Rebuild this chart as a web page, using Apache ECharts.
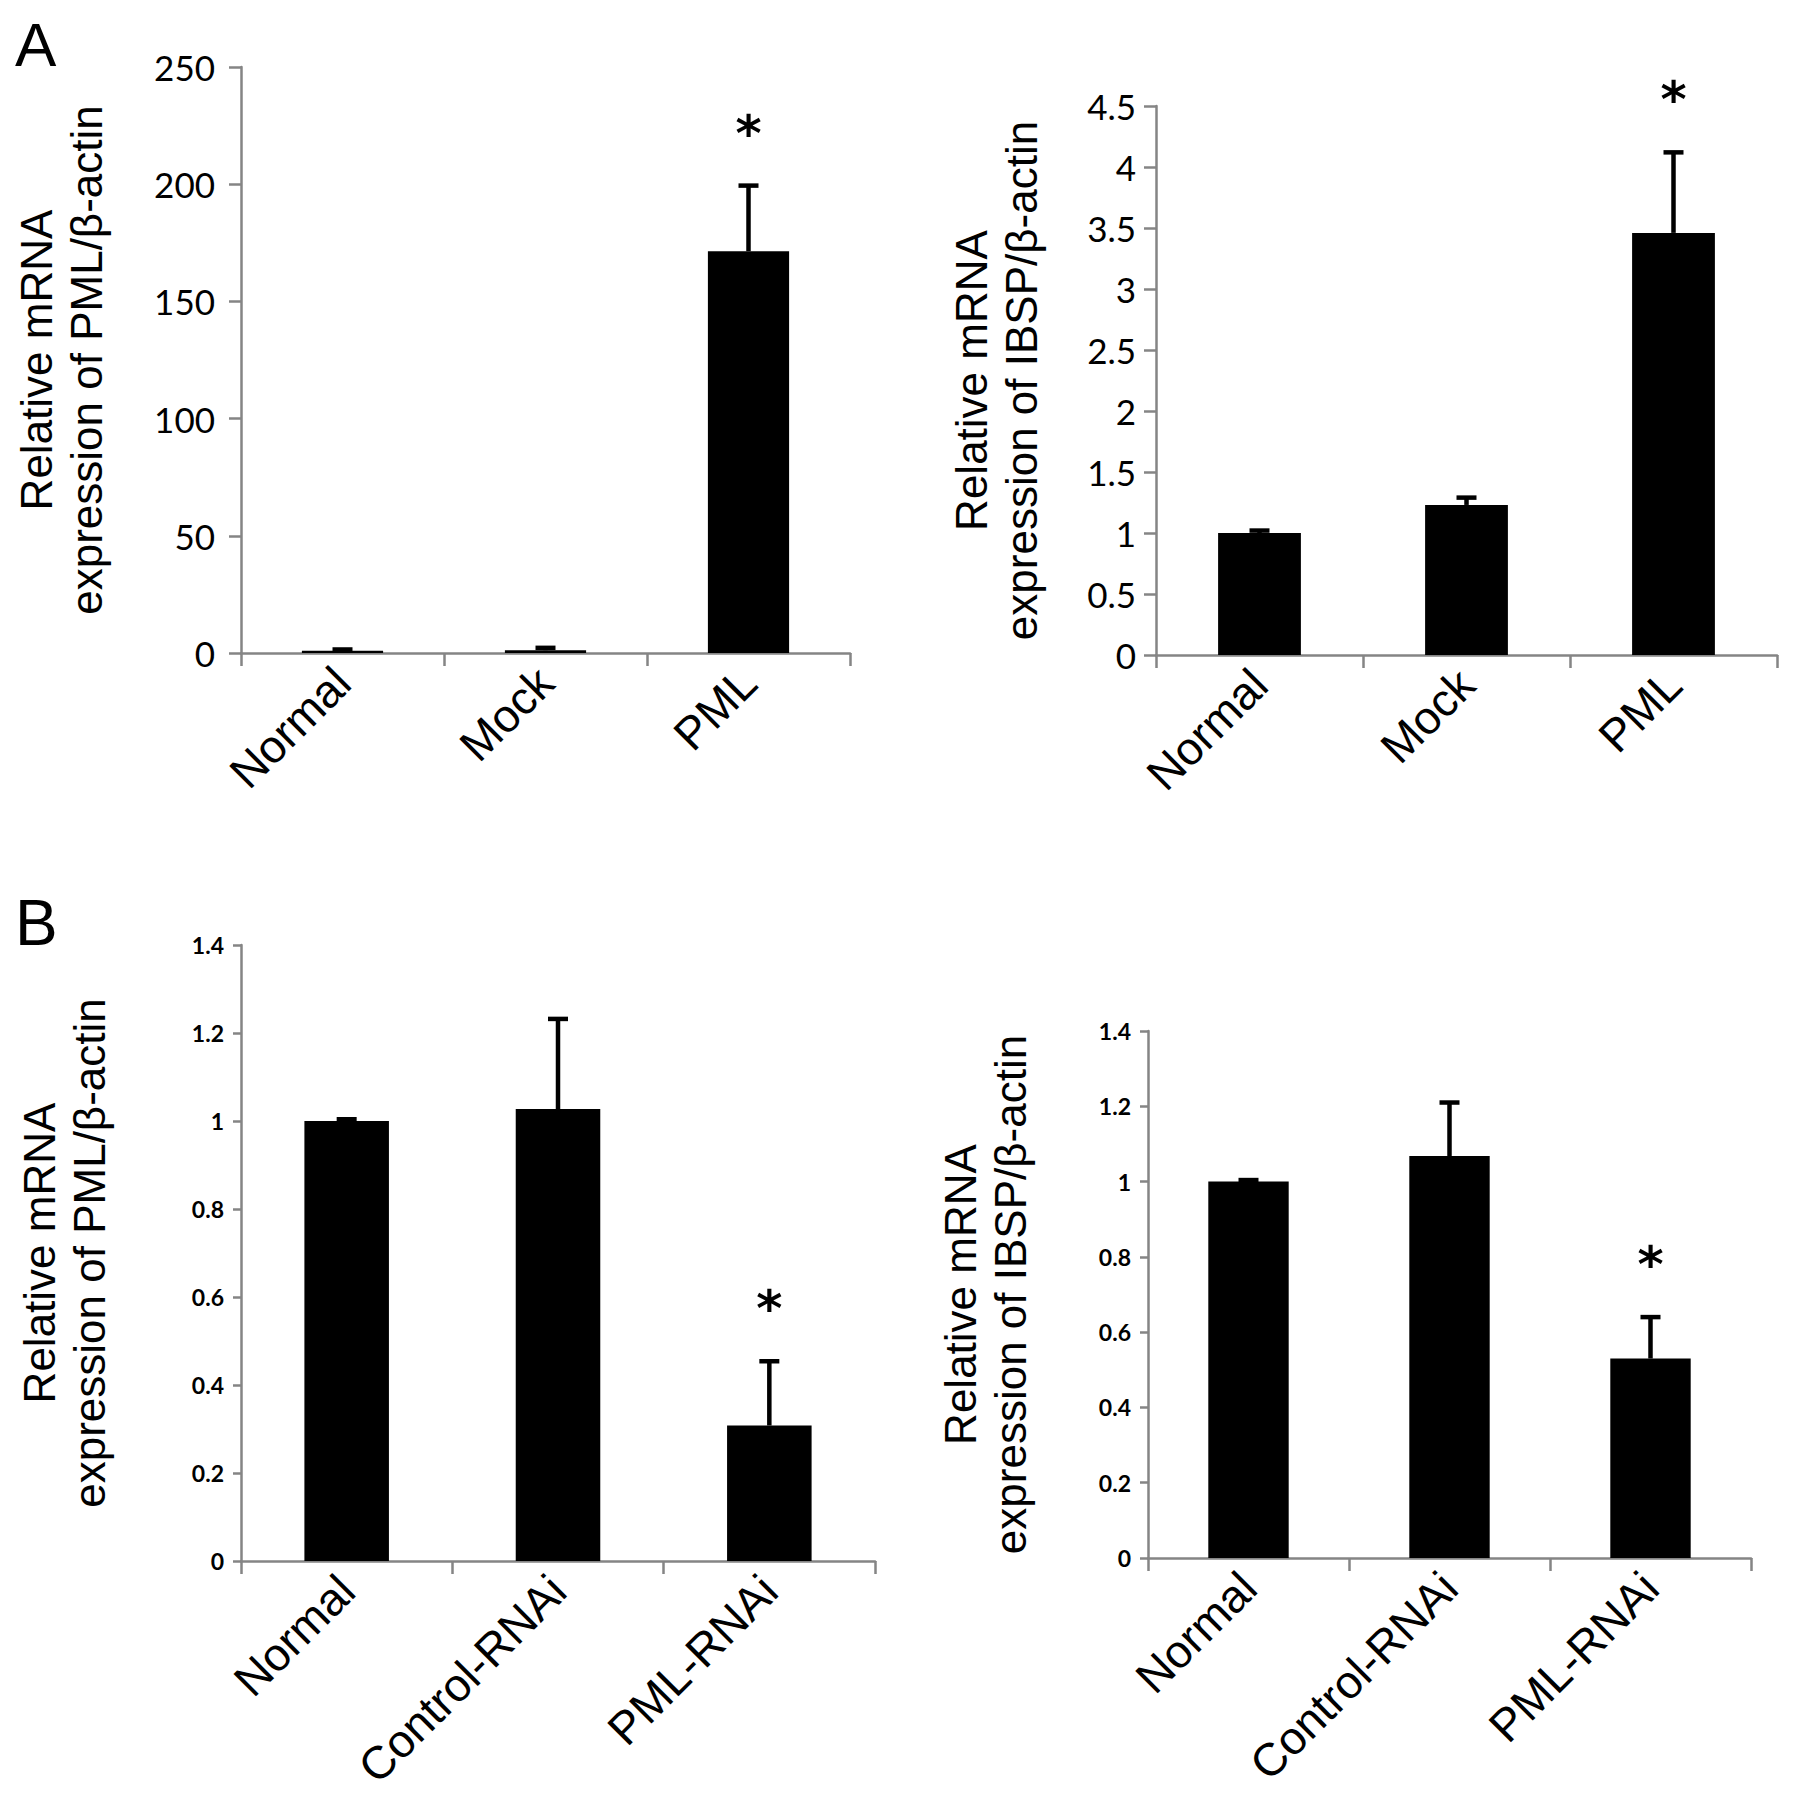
<!DOCTYPE html>
<html>
<head>
<meta charset="utf-8">
<script src="https://cdn.jsdelivr.net/npm/echarts@6/dist/echarts.min.js"></script>
<style>html,body{margin:0;padding:0;background:#fff;}#c{width:1795px;height:1795px;}</style>
</head>
<body>
<div id="c"></div>
<script>
// ---- data ----
const catsA = ['Normal', 'Mock', 'PML'];
const catsB = ['Normal', 'Control-RNAi', 'PML-RNAi'];

const pmlA = [1.0, 1.2, 171.4];
const pmlAErr = [0.5, 1.0, 28.0];
const pmlASig = [false, false, true];

const ibspA = [1.0, 1.23, 3.46];
const ibspAErr = [0.02, 0.06, 0.66];
const ibspASig = [false, false, true];

const pmlB = [1.0, 1.027, 0.308];
const pmlBErr = [0.004, 0.205, 0.146];
const pmlBSig = [false, false, true];

const ibspB = [1.0, 1.068, 0.53];
const ibspBErr = [0.004, 0.142, 0.11];
const ibspBSig = [false, false, true];

const yTitlePML = 'Relative mRNA\nexpression of PML/β-actin';
const yTitleIBSP = 'Relative mRNA\nexpression of IBSP/β-actin';

// ---- styles ----
const AXIS_COLOR = '#858585';
const ARIAL = 'Liberation Sans';
const TICKFONT = 'Lato';

function xAxis(gi, cats) {
  return {
    type: 'category', gridIndex: gi, data: cats,
    axisLine: { lineStyle: { color: AXIS_COLOR, width: 2.5 } },
    axisTick: { show: true, length: 13, lineStyle: { color: AXIS_COLOR, width: 2.5 } },
    axisLabel: { rotate: 45, interval: 0, margin: 22, color: '#000', fontSize: 46, fontFamily: ARIAL },
    splitLine: { show: false }
  };
}
function yAxis(gi, max, interval, name, gap, big, lblMargin, tickLen) {
  return {
    type: 'value', gridIndex: gi, min: 0, max: max, interval: interval,
    name: name, nameLocation: 'middle', nameGap: gap,
    nameTextStyle: { color: '#000', fontSize: 44, lineHeight: 50, fontFamily: ARIAL },
    axisLine: { show: true, lineStyle: { color: AXIS_COLOR, width: 2.5 } },
    axisTick: { show: true, length: tickLen, lineStyle: { color: AXIS_COLOR, width: 2.5 } },
    axisLabel: big
      ? { color: '#000', fontSize: 35, fontFamily: TICKFONT, margin: lblMargin }
      : { color: '#000', fontSize: 23, fontWeight: 'bold', fontFamily: TICKFONT, margin: lblMargin },
    splitLine: { show: false }
  };
}
function bars(gi, vals) {
  return {
    type: 'bar', xAxisIndex: gi, yAxisIndex: gi, data: vals,
    barWidth: '40%', itemStyle: { color: '#000' }, silent: true
  };
}
function errs(gi, vals, err, sig) {
  return {
    type: 'custom', xAxisIndex: gi, yAxisIndex: gi, silent: true, clip: false,
    data: vals.map((v, i) => [i, v, err[i], sig[i] ? 1 : 0]),
    encode: { x: 0, y: 1 },
    z: 3,
    renderItem: function (params, api) {
      const i = api.value(0), v = api.value(1), e = api.value(2), s = api.value(3);
      const p0 = api.coord([i, v]);
      const p1 = api.coord([i, v + e]);
      const st = { stroke: '#000', lineWidth: 4.5 };
      const children = [
        { type: 'line', shape: { x1: p0[0], y1: p0[1], x2: p1[0], y2: p1[1] }, style: st },
        { type: 'line', shape: { x1: p1[0] - 10, y1: p1[1], x2: p1[0] + 10, y2: p1[1] }, style: st }
      ];
      if (s) {
        children.push({
          type: 'text', x: p1[0], y: p1[1] - 52,
          style: { text: '*', fill: '#000', font: 'bold 50px "DejaVu Sans"', align: 'center', verticalAlign: 'middle' }
        });
      }
      return { type: 'group', children: children };
    }
  };
}

const chart = echarts.init(document.getElementById('c'), null, { renderer: 'svg' });
chart.setOption({
  backgroundColor: '#fff',
  animation: false,
  title: [
    { text: 'A', left: 10, top: 8, textStyle: { fontSize: 62, fontWeight: 'normal', fontFamily: ARIAL, color: '#000' } },
    { text: 'B', left: 10, top: 886, textStyle: { fontSize: 64, fontWeight: 'normal', fontFamily: ARIAL, color: '#000' } }
  ],
  grid: [
    { left: 241, top: 67, width: 609, height: 586 },
    { left: 1156, top: 106, width: 621, height: 549 },
    { left: 241, top: 945, width: 634, height: 616 },
    { left: 1148, top: 1031, width: 603, height: 527 }
  ],
  xAxis: [xAxis(0, catsA), xAxis(1, catsA), xAxis(2, catsB), xAxis(3, catsB)],
  yAxis: [
    yAxis(0, 250, 50, yTitlePML, 130, true, 26, 12),
    yAxis(1, 4.5, 0.5, yTitleIBSP, 110, true, 20, 12),
    yAxis(2, 1.4, 0.2, yTitlePML, 127, false, 17, 8),
    yAxis(3, 1.4, 0.2, yTitleIBSP, 113, false, 17, 8)
  ],
  series: [
    bars(0, pmlA), errs(0, pmlA, pmlAErr, pmlASig),
    bars(1, ibspA), errs(1, ibspA, ibspAErr, ibspASig),
    bars(2, pmlB), errs(2, pmlB, pmlBErr, pmlBSig),
    bars(3, ibspB), errs(3, ibspB, ibspBErr, ibspBSig)
  ]
});
</script>
</body>
</html>
